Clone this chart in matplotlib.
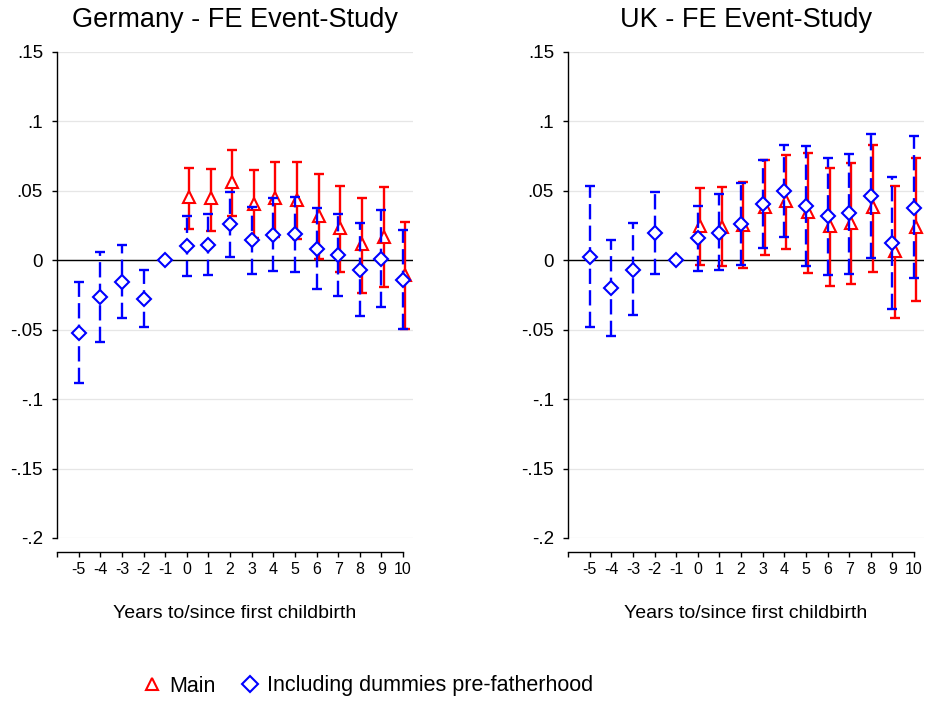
import numpy as np
import matplotlib
matplotlib.use("Agg")
import matplotlib.pyplot as plt

plt.rcParams['font.family'] = ['Liberation Sans', 'DejaVu Sans']
plt.rcParams['lines.scale_dashes'] = False

# Periods relative to first childbirth
years = np.arange(-5, 11)
years_main = np.arange(0, 11)

# Germany - including dummies pre-fatherhood (blue)
de_inc = [-0.0523, -0.0263, -0.0157, -0.0277, 0.0, 0.0101, 0.0111, 0.0258, 0.0145,
          0.0183, 0.0186, 0.0084, 0.0036, -0.0070, 0.0010, -0.0142]
de_inc_lo = [-0.0887, -0.0588, -0.0419, -0.0482, np.nan, -0.0113, -0.0108, 0.0024, -0.0101,
             -0.0080, -0.0082, -0.0207, -0.0258, -0.0400, -0.0340, -0.0496]
de_inc_hi = [-0.0159, 0.0063, 0.0108, -0.0070, np.nan, 0.0320, 0.0330, 0.0494, 0.0386,
             0.0448, 0.0453, 0.0378, 0.0335, 0.0267, 0.0361, 0.0219]

# Germany - main (red)
de_main = [0.0453, 0.0446, 0.0564, 0.0407, 0.0446, 0.0436, 0.0320, 0.0229, 0.0116, 0.0171, -0.0106]
de_main_lo = [0.0222, 0.0214, 0.0316, 0.0159, 0.0170, 0.0152, 0.0012, -0.0087, -0.0236, -0.0193, -0.0496]
de_main_hi = [0.0667, 0.0655, 0.0795, 0.0653, 0.0711, 0.0706, 0.0619, 0.0535, 0.0448, 0.0530, 0.0275]

# UK - including dummies pre-fatherhood (blue)
uk_inc = [0.0026, -0.0202, -0.0067, 0.0195, 0.0, 0.0159, 0.0200, 0.0262, 0.0404,
          0.0498, 0.0389, 0.0317, 0.0339, 0.0462, 0.0127, 0.0380]
uk_inc_lo = [-0.0483, -0.0548, -0.0392, -0.0101, np.nan, -0.0075, -0.0072, -0.0036, 0.0091,
             0.0171, -0.0038, -0.0103, -0.0096, 0.0019, -0.0349, -0.0130]
uk_inc_hi = [0.0538, 0.0147, 0.0269, 0.0490, np.nan, 0.0392, 0.0474, 0.0560, 0.0719,
             0.0829, 0.0825, 0.0738, 0.0767, 0.0909, 0.0603, 0.0892]

# UK - main (red)
uk_main = [0.0248, 0.0243, 0.0252, 0.0382, 0.0428, 0.0346, 0.0248, 0.0272, 0.0382, 0.0070, 0.0238]
uk_main_lo = [-0.0036, -0.0041, -0.0053, 0.0041, 0.0079, -0.0094, -0.0183, -0.0171, -0.0082, -0.0418, -0.0296]
uk_main_hi = [0.0517, 0.0526, 0.0563, 0.0719, 0.0755, 0.0776, 0.0663, 0.0702, 0.0827, 0.0536, 0.0738]

yticks = [0.15, 0.1, 0.05, 0, -0.05, -0.1, -0.15, -0.2]
ylabels = ['.15', '.1', '.05', '0', '-.05', '-.1', '-.15', '-.2']
xticks = np.arange(-6, 11)
xlabels = [''] + [str(v) for v in range(-5, 11)]

red = '#ff0000'
blue = '#0000ff'

fig = plt.figure(figsize=(9.25, 7.01), dpi=100)
W, H = 925, 701


def panel(left, title, inc, inc_lo, inc_hi, main, main_lo, main_hi):
    ax = fig.add_axes([left / W, 1 - 538 / H, 356 / W, 486 / H])
    ax.set_xlim(-6, 10.46)
    ax.set_ylim(-0.2, 0.15)

    for yv in yticks:
        ax.axhline(yv, color='#e6e6e6', lw=0.9, zorder=0)
    ax.axhline(0, color='black', lw=1.0, zorder=1)

    # Main estimates (red, solid), slightly shifted
    main = np.array(main)
    xm = years_main + 0.1
    ax.errorbar(xm, main, yerr=[main - np.array(main_lo), np.array(main_hi) - main],
                fmt='none', ecolor=red, elinewidth=1.7, capsize=3.6, capthick=1.7, zorder=2)
    ax.plot(xm, main, linestyle='none', marker='^', ms=8.5, mfc='white', mec=red, mew=1.5, zorder=3)

    # Including dummies pre-fatherhood (blue, dashed)
    inc = np.array(inc)
    lo = np.array(inc_lo)
    hi = np.array(inc_hi)
    ok = ~np.isnan(lo)
    eb = ax.errorbar(years[ok], inc[ok], yerr=[inc[ok] - lo[ok], hi[ok] - inc[ok]],
                     fmt='none', ecolor=blue, elinewidth=1.7, capsize=3.6, capthick=1.7, zorder=4)
    eb[2][0].set_linestyle((0, (11, 4.5)))
    ax.plot(years, inc, linestyle='none', marker='D', ms=7.3, mfc='white', mec=blue, mew=1.5, zorder=5)

    for s in ['top', 'right']:
        ax.spines[s].set_visible(False)
    ax.spines['left'].set_linewidth(1.0)
    ax.spines['bottom'].set_position(('outward', 10))
    ax.spines['bottom'].set_bounds(-6, 10)
    ax.spines['bottom'].set_linewidth(1.0)

    ax.set_yticks(yticks)
    ax.set_yticklabels(ylabels, fontsize=13.5)
    ax.set_xticks(xticks)
    ax.set_xticklabels(xlabels, fontsize=11.5)
    ax.tick_params(axis='y', length=3.6, width=1.0, pad=6.5)
    ax.tick_params(axis='x', length=3.6, width=1.0, pad=4)

    cx = (left + 178) / W
    fig.text(cx, 1 - 20 / H, title, ha='center', va='center', fontsize=19.5)
    fig.text(cx, 1 - 613 / H, 'Years to/since first childbirth', ha='center', va='center', fontsize=14)
    return ax


panel(57, 'Germany - FE Event-Study', de_inc, de_inc_lo, de_inc_hi, de_main, de_main_lo, de_main_hi)
panel(568, 'UK - FE Event-Study', uk_inc, uk_inc_lo, uk_inc_hi, uk_main, uk_main_lo, uk_main_hi)

h1 = plt.Line2D([], [], linestyle='none', marker='^', ms=9, mfc='white', mec=red, mew=1.5)
h2 = plt.Line2D([], [], linestyle='none', marker='D', ms=8, mfc='white', mec=blue, mew=1.5)
fig.legend([h1, h2], ['Main', 'Including dummies pre-fatherhood'], loc='center',
           bbox_to_anchor=(367 / W, 1 - 686 / H), ncol=2, frameon=False, fontsize=15.5,
           handlelength=1.0, handletextpad=0.3, columnspacing=1.1)

fig.savefig('out.png', dpi=100)
